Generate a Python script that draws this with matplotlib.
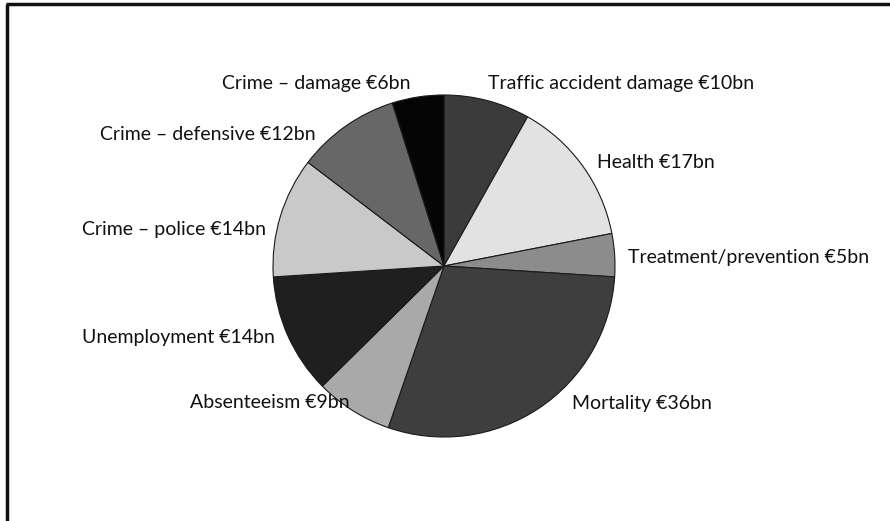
import matplotlib.pyplot as plt

# Data (EUR bn), clockwise from 12 o'clock
labels = ['Traffic accident damage', 'Health', 'Treatment/prevention', 'Mortality',
          'Absenteeism', 'Unemployment', 'Crime \u2013 police', 'Crime \u2013 defensive',
          'Crime \u2013 damage']
values = [10, 17, 5, 36, 9, 14, 14, 12, 6]

colors = ['#3b3b3b', '#e2e2e2', '#8c8c8c', '#3e3e3e', '#a9a9a9',
          '#1f1f1f', '#c9c9c9', '#676767', '#050505']

# label anchor (pixel x, pixel y from top) and alignment
label_pos = [(488, 83, 'left'), (597, 163, 'left'), (628, 258, 'left'),
             (572, 404, 'left'), (350, 403, 'right'), (275, 338, 'right'),
             (266, 230, 'right'), (316, 135, 'right'), (410, 83, 'right')]

W, H = 890, 521
fig = plt.figure(figsize=(W / 100, H / 100), dpi=100)
ax = fig.add_axes([0, 0, 1, 1])

ax.pie(values, colors=colors, startangle=90, counterclock=False,
       center=(444, H - 266), radius=171,
       wedgeprops=dict(edgecolor='#1a1a1a', linewidth=0.8))

for lab, v, (x, y, ha) in zip(labels, values, label_pos):
    ax.text(x, H - y, f'{lab} \u20ac{v}bn', ha=ha, va='center',
            fontsize=14, family='Lato', color='#111111')

# partial frame (top and left edges)
ax.plot([6, W], [H - 4, H - 4], color='#111111', lw=2.5, solid_capstyle='butt')
ax.plot([7, 7], [H - 4, 0], color='#111111', lw=2.5, solid_capstyle='butt')

ax.set_xlim(0, W)
ax.set_ylim(0, H)
ax.set_aspect('auto')
ax.set_axis_off()

plt.savefig('out.png', dpi=100)
